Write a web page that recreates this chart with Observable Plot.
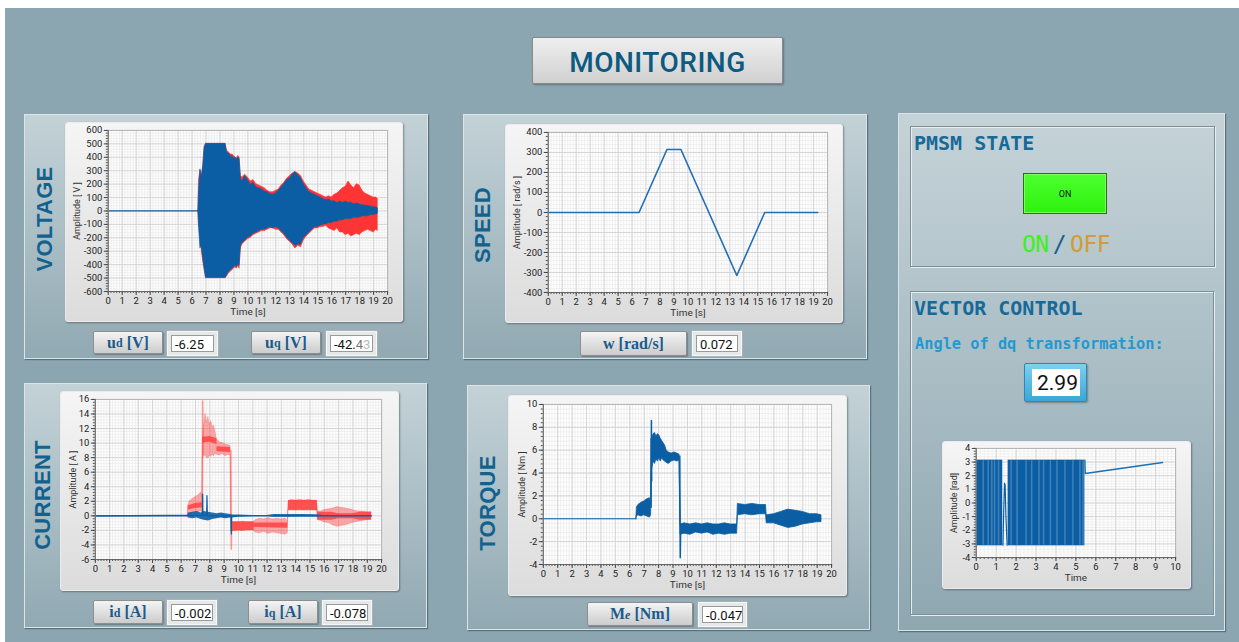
<!DOCTYPE html>
<html><head><meta charset="utf-8">
<script src="https://cdn.jsdelivr.net/npm/d3@7"></script>
<script src="https://cdn.jsdelivr.net/npm/@observablehq/plot@0.6"></script>
<style>
body{margin:0;width:1239px;height:642px;background:#fff;position:relative;overflow:hidden;font-family:Roboto,"Liberation Sans",sans-serif}
.abs{position:absolute;box-sizing:border-box}
#bg{left:5px;top:8px;width:1234px;height:634px;background:#8ba6b0}
.panel{background:linear-gradient(#c3d2d7,#91a9b3);border:1px solid #dbe5e8;box-shadow:1px 1px 1px rgba(50,70,80,.55)}
.card{background:linear-gradient(#f5f5f5,#dcdcdc);border:1px solid #ececec;border-radius:3px;box-shadow:1px 1px 2px rgba(0,0,0,.35)}
.card svg{position:absolute;left:-1px;top:-1px}
.vt{font-family:"Liberation Sans",Arial,sans-serif;font-weight:bold;font-size:22px;color:#13628e;transform:translate(-50%,-50%) rotate(-90deg);white-space:nowrap;letter-spacing:0.3px}
.btn{background:linear-gradient(#f4f4f4,#cccccc);border:1px solid #8e8e8e;border-radius:2px;font-family:"Liberation Serif","DejaVu Serif",serif;font-weight:bold;font-size:16px;color:#1b5b8b;display:flex;align-items:center;justify-content:center;box-shadow:1px 1px 1px rgba(0,0,0,.25)}
.btn sub{font-size:12px;vertical-align:baseline;position:relative;top:1px}
.valo{background:#e6e9ea;border:1px solid #f6f8f8;box-shadow:0 0 0 1px #a9b2b5}
.vali{position:absolute;left:3px;top:3px;right:3px;bottom:3px;background:#fff;border:1px solid #9a9a9a;font-family:Roboto,sans-serif;font-size:13px;color:#111;line-height:18px;padding-left:3px;overflow:hidden;white-space:nowrap}
.sub{border:1px solid #7d9096;box-shadow:inset 1px 1px 0 #e6eef0,1px 1px 0 #e6eef0}
.mono{font-family:"DejaVu Sans Mono",monospace;font-weight:bold;white-space:nowrap}
</style></head>
<body>
<div id="bg" class="abs"></div>

<!-- title -->
<div class="abs" style="left:532px;top:37px;width:251px;height:47px;padding-top:4px;background:linear-gradient(#efefef,#d0d0d0);border:1px solid #8a8a8a;border-radius:2px;box-shadow:1px 1px 2px rgba(0,0,0,.3);display:flex;align-items:center;justify-content:center;font-family:Roboto,sans-serif;font-weight:500;font-size:28px;color:#0c5a80;letter-spacing:0.5px">MONITORING</div>

<!-- panels -->
<div class="abs panel" style="left:24px;top:114px;width:404px;height:245px"></div>
<div class="abs panel" style="left:463px;top:114px;width:404px;height:245px"></div>
<div class="abs panel" style="left:24px;top:383px;width:403px;height:245px"></div>
<div class="abs panel" style="left:467px;top:385px;width:403px;height:245px"></div>
<div class="abs panel" style="left:898px;top:113px;width:327px;height:518px;background:linear-gradient(#c5d3d8,#8ea7b1)"></div>
<div class="abs sub" style="left:910px;top:126px;width:305px;height:141px"></div>
<div class="abs sub" style="left:910px;top:291px;width:304px;height:324px"></div>

<!-- vertical titles -->
<div class="abs vt" style="left:45px;top:219px">VOLTAGE</div>
<div class="abs vt" style="left:483px;top:225px">SPEED</div>
<div class="abs vt" style="left:43px;top:495px">CURRENT</div>
<div class="abs vt" style="left:488px;top:503px">TORQUE</div>

<!-- chart cards -->
<div id="cV" class="abs card" style="left:65px;top:122px;width:338px;height:200px"></div>
<div id="cS" class="abs card" style="left:505px;top:124px;width:338px;height:199px"></div>
<div id="cC" class="abs card" style="left:60px;top:391px;width:339px;height:200px"></div>
<div id="cT" class="abs card" style="left:508px;top:395px;width:339px;height:201px"></div>
<div id="cA" class="abs card" style="left:942px;top:441px;width:249px;height:148px"></div>

<!-- buttons and value boxes -->
<div class="abs btn" style="left:93px;top:331px;width:70px;height:23px">u<sub>d</sub>&nbsp;[V]</div>
<div class="abs valo" style="left:167px;top:331px;width:51px;height:25px"><div class="vali">-6.25</div></div>
<div class="abs btn" style="left:251px;top:331px;width:70px;height:23px">u<sub>q</sub>&nbsp;[V]</div>
<div class="abs valo" style="left:326px;top:331px;width:51px;height:25px"><div class="vali">-42.<span style="color:#777">4</span><span style="color:#bbb">3</span></div></div>

<div class="abs btn" style="left:580px;top:331px;width:107px;height:25px">w [rad/s]</div>
<div class="abs valo" style="left:692px;top:331px;width:50px;height:25px"><div class="vali">0.072</div></div>

<div class="abs btn" style="left:93px;top:600px;width:70px;height:24px">i<sub>d</sub>&nbsp;[A]</div>
<div class="abs valo" style="left:167px;top:600px;width:50px;height:25px"><div class="vali">-0.002</div></div>
<div class="abs btn" style="left:248px;top:600px;width:70px;height:24px">i<sub>q</sub>&nbsp;[A]</div>
<div class="abs valo" style="left:322px;top:600px;width:50px;height:25px"><div class="vali">-0.078</div></div>

<div class="abs btn" style="left:587px;top:602px;width:106px;height:24px">M<sub style="font-style:italic">e</sub>&nbsp;[Nm]</div>
<div class="abs valo" style="left:698px;top:602px;width:49px;height:25px"><div class="vali">-0.047</div></div>

<!-- right side -->
<div class="abs mono" style="left:914px;top:131px;font-size:20px;color:#176a98">PMSM STATE</div>
<div class="abs" style="left:1023px;top:173px;width:84px;height:41px;background:linear-gradient(#4dff2e,#2ef20f);border:1px solid #2b6e1c;box-shadow:inset 0 0 0 1px #7dff60;display:flex;align-items:center;justify-content:center;font-family:Roboto,sans-serif;font-size:9px;color:#111">ON</div>
<div class="abs" style="left:1022px;top:231px;font-family:'DejaVu Sans Mono',monospace;font-size:23px;white-space:nowrap;letter-spacing:-0.5px"><span style="color:#3ef01c">ON</span><span style="color:#1a5f90;margin:0 4px">/</span><span style="color:#d49a3a">OFF</span></div>

<div class="abs mono" style="left:914px;top:296px;font-size:20px;color:#176a98">VECTOR CONTROL</div>
<div class="abs mono" style="left:915px;top:335px;font-size:15.3px;color:#1f9ad2">Angle of dq transformation:</div>
<div class="abs" style="left:1024px;top:363px;width:63px;height:39px;background:linear-gradient(#7fd0ef,#3aa6d6);border:1px solid #2b88b8;border-radius:2px;box-shadow:1px 1px 2px rgba(0,0,0,.3)">
  <div style="position:absolute;left:7px;top:5px;right:6px;bottom:5px;background:#fff;font-family:Roboto,sans-serif;font-size:21px;line-height:28px;padding-left:5px;color:#111">2.99</div>
</div>

<script>
// ================= DATA =================
// Voltage envelopes: [time s, lower V, upper V]
const voltLead = [[0, 0], [6.45, 0]];
const voltBlue = [[6.45,0,0],[6.5,-120,150],[6.6,-280,310],[6.7,-260,250],[6.8,-350,330],[6.9,-430,470],[7.0,-500,500],[8.4,-500,500],[8.5,-480,440],[8.6,-460,430],[8.7,-450,420],[8.8,-440,400],[8.9,-430,410],[9.0,-420,390],[9.1,-410,400],[9.2,-420,380],[9.3,-400,400],[9.4,-410,390],[9.5,-260,240],[9.6,-240,220],[9.8,-220,260],[10.0,-200,230],[10.2,-190,195],[10.4,-170,210],[10.6,-160,175],[10.8,-150,170],[11.0,-140,160],[11.2,-140,145],[11.4,-130,140],[11.6,-120,125],[11.8,-130,120],[12.0,-120,130],[12.2,-130,150],[12.4,-150,175],[12.6,-170,200],[12.8,-200,230],[13.0,-220,240],[13.2,-240,270],[13.4,-260,290],[13.6,-250,265],[13.8,-250,245],[14.0,-200,200],[14.2,-180,170],[14.4,-160,140],[14.6,-140,130],[14.8,-120,120],[15.0,-120,110],[15.2,-110,100],[15.4,-100,90],[15.6,-100,80],[15.8,-90,85],[16.0,-90,70],[16.2,-80,72],[16.4,-80,60],[16.6,-70,70],[16.8,-70,60],[17.0,-60,70],[17.2,-60,60],[17.4,-60,62],[17.6,-50,50],[17.8,-50,55],[18.0,-50,50],[18.2,-40,42],[18.4,-40,40],[18.6,-40,38],[18.8,-30,32],[19.0,-30,30],[19.2,-25,25],[19.3,-20,20]];
const voltRed = [[6.45,0,0],[6.5,-100,230],[6.6,-150,300],[6.7,-300,260],[6.8,-380,340],[6.9,-440,480],[7.0,-500,500],[8.4,-500,500],[8.5,-490,450],[8.6,-470,440],[8.7,-460,430],[8.8,-450,420],[8.9,-440,420],[9.0,-430,410],[9.1,-420,400],[9.2,-430,390],[9.3,-410,410],[9.4,-430,400],[9.5,-280,260],[9.6,-250,250],[9.8,-230,270],[10.0,-210,250],[10.2,-200,220],[10.4,-180,230],[10.6,-170,200],[10.8,-160,190],[11.0,-150,180],[11.2,-150,170],[11.4,-140,150],[11.6,-130,140],[11.8,-130,140],[12.0,-140,150],[12.2,-140,160],[12.4,-160,190],[12.6,-180,210],[12.8,-210,240],[13.0,-230,260],[13.2,-250,280],[13.4,-280,290],[13.6,-260,280],[13.8,-270,260],[14.0,-220,220],[14.2,-190,190],[14.4,-170,160],[14.6,-150,150],[14.8,-130,140],[15.0,-130,130],[15.2,-120,120],[15.4,-120,110],[15.6,-110,100],[15.8,-130,110],[16.0,-140,100],[16.2,-150,120],[16.4,-130,130],[16.6,-160,150],[16.8,-160,170],[17.0,-180,180],[17.2,-170,220],[17.4,-190,190],[17.6,-180,170],[17.8,-170,200],[18.0,-180,190],[18.2,-160,150],[18.4,-150,130],[18.6,-140,120],[18.8,-150,110],[19.0,-160,100],[19.2,-140,100],[19.3,-150,90]];

// Speed [time s, rad/s]
const speedT = [0, 6.5, 8.5, 9.5, 13.5, 15.5, 19.3];
const speedV = [0, 0, 315, 315, -315, 0, 0];

// Current iq: light (spread) band and dense core band [t, lo, hi]
const iqLead = [[0, 0], [6.45, 0]];
const iqLight = [[6.45,0,0],[6.5,-0.2,1.5],[6.6,0.2,2.0],[6.8,0.4,2.3],[7.0,0.3,2.6],[7.2,0.5,2.8],[7.4,0.6,3.2],[7.48,0.5,2.5],[7.5,7.8,9.0],[7.55,8.0,11.5],[7.6,8.3,12.5],[7.7,8.2,14.0],[7.8,8.0,12.8],[7.9,7.9,13.6],[8.0,8.3,12.5],[8.1,8.1,13.0],[8.2,8.4,12.2],[8.3,8.2,12.4],[8.4,8.5,11.5],[8.5,8.4,10.5],[8.7,8.3,10.1],[8.9,8.5,10.0],[9.1,8.2,9.8],[9.3,8.4,9.7],[9.45,8.3,9.6],[9.5,-2.2,-0.8],[9.7,-2.1,-0.9],[10.0,-2.0,-0.9],[10.3,-2.1,-0.8],[10.6,-2.0,-0.9],[11.0,-2.0,-0.9],[11.2,-2.3,-0.6],[11.5,-2.4,-0.4],[11.8,-2.2,-0.5],[12.1,-2.5,-0.3],[12.4,-2.3,-0.5],[12.7,-2.4,-0.4],[13.0,-2.5,-0.5],[13.3,-2.6,-0.4],[13.45,-2.4,-0.8],[13.5,0.8,2.0],[13.7,0.9,2.2],[14.0,0.8,2.1],[14.3,0.9,2.2],[14.6,0.8,2.1],[14.9,0.9,2.2],[15.2,0.8,2.1],[15.5,0.8,2.1],[15.55,-0.6,0.6],[15.8,-0.7,0.6],[16.0,-0.9,0.8],[16.3,-1.0,0.9],[16.6,-1.3,1.0],[16.9,-1.5,1.2],[17.2,-1.4,1.1],[17.5,-1.3,1.0],[17.8,-1.1,0.9],[18.1,-0.9,0.7],[18.4,-0.8,0.6],[18.7,-0.7,0.6],[19.0,-0.6,0.5],[19.3,-0.5,0.5]];
const iqCore = [[6.45,0,0],[6.5,0.8,1.4],[7.0,1.0,1.7],[7.48,1.1,1.8],[7.5,10.0,10.8],[8.0,10.1,10.9],[8.5,9.8,10.6],[8.5,8.8,9.5],[9.45,8.7,9.4],[9.5,-2.1,-0.8],[11.1,-2.0,-0.8],[11.1,-1.6,-1.0],[13.45,-1.7,-1.0],[13.5,0.7,2.1],[15.5,0.7,2.1],[15.55,-0.6,0.5],[16.5,-0.6,0.5],[17.0,-0.4,0.3],[18.0,-0.4,0.3],[18.5,-0.6,0.5],[19.3,-0.6,0.5]];
const iqSpikes = [[7.48,1.5,"a"],[7.5,15.8,"a"],[7.53,8.5,"a"],[9.47,9.0,"b"],[9.5,-4.6,"b"],[9.52,-1.5,"b"]];
// Current id
const idBand = [[6.45,0,0],[6.5,-0.3,0.4],[6.8,-0.4,0.5],[7.1,-0.3,0.6],[7.4,-0.5,0.4],[7.6,-0.6,0.6],[7.9,-0.7,0.5],[8.2,-0.5,0.4],[8.5,-0.4,0.3],[8.8,-0.3,0.4],[9.1,-0.4,0.3],[9.45,-0.3,0.2],[9.6,-0.3,0.1],[10.0,-0.2,0.1],[11.0,-0.1,0.05],[12.0,-0.05,0.05],[12.5,-0.2,0.2],[13.5,-0.2,0.2],[14.5,-0.15,0.2],[15.5,-0.15,0.15],[16.0,-0.05,0.05],[19.3,-0.05,0.05]];
const idLine = [[0,0],[7.48,0.1],[7.5,3.0],[7.52,0.1],[7.78,0.1],[7.8,2.8],[7.83,0],[9.48,0],[9.5,-2.5],[9.53,0],[19.3,0]];

// Torque [t, lo, hi]
const trqLead = [[0, 0], [6.45, 0]];
const trqBand = [[6.45,0,0],[6.5,0.2,1.0],[6.6,0.3,1.2],[6.8,0.2,1.4],[7.0,0.3,1.5],[7.2,0.2,1.7],[7.4,0.1,1.8],[7.48,0.3,1.2],[7.5,3.3,7.0],[7.55,4.3,7.0],[7.65,5.0,7.4],[7.75,4.8,7.5],[7.85,5.2,7.2],[7.95,5.0,7.4],[8.05,5.3,7.3],[8.15,5.0,7.0],[8.25,5.3,6.8],[8.35,5.1,6.6],[8.45,5.0,6.4],[8.55,4.9,6.0],[8.7,4.8,5.8],[8.9,5.0,5.7],[9.1,5.1,5.8],[9.3,5.0,5.7],[9.45,5.1,5.6],[9.52,-1.4,-0.5],[9.8,-1.3,-0.4],[10.2,-1.4,-0.5],[10.6,-1.2,-0.4],[11.0,-1.3,-0.5],[11.4,-1.2,-0.4],[11.8,-1.4,-0.5],[12.2,-1.3,-0.5],[12.6,-1.4,-0.4],[13.0,-1.3,-0.5],[13.45,-1.3,-0.5],[13.5,0.3,1.3],[14.0,0.4,1.2],[14.5,0.3,1.3],[15.0,0.4,1.2],[15.45,0.4,1.2],[15.5,-0.4,0.3],[16.0,-0.4,0.4],[16.5,-0.6,0.6],[17.0,-0.8,0.8],[17.5,-0.7,0.7],[18.0,-0.5,0.6],[18.5,-0.4,0.4],[19.0,-0.3,0.4],[19.3,-0.3,0.3]];
const trqSpikes = [[7.48,1.0,"a"],[7.5,8.6,"a"],[7.52,3.3,"a"],[9.47,5.5,"b"],[9.5,-3.4,"b"],[9.53,-1.0,"b"]];

// Angle of dq transformation [rad]
const angleBlockStart = [0, 1.6];
const angleBlockEnd = [1.33, 5.45];
const angleMin = -3.14, angleMax = 3.14;
const angleStripes = [0.35, 0.6, 0.78, 0.92, 1.12, 1.75, 2.05, 2.5, 2.78, 3.15, 3.38, 3.72, 4.05, 4.45, 4.85, 5.2, 5.36];
const angleGlitch = [[1.34,-3.1],[1.38,-0.5],[1.42,1.45],[1.45,1.3],[1.49,-1.0],[1.55,-3.1]];
const angleRamp = [[5.45,3.14],[5.47,2.16],[9.35,2.97]];

// Axis ticks
const tick20 = d3.range(0, 21, 1), tick20m = d3.range(0, 20.01, 0.2);
const tick10 = d3.range(0, 11, 1), tick10m = d3.range(0, 10.01, 0.2);

// ================= DRAW =================
const BLUE = "#0b5ea4", RED = "#ff3434";
function chart(el, o) {
  const p = Plot.plot({
    width: o.w, height: o.h,
    marginLeft: o.ml, marginRight: o.mr, marginTop: o.mt, marginBottom: o.mb,
    x: {domain: o.xd}, y: {domain: o.yd},
    style: {background: "transparent", fontFamily: "'Liberation Sans Narrow', Roboto, sans-serif", fontSize: "9.5px", color: "#222", overflow: "visible"},
    marks: [
      Plot.frame({fill: "white"}),
      Plot.gridX(o.xm, {stroke: "#efefef", strokeOpacity: 1}),
      Plot.gridY(o.ym, {stroke: "#efefef", strokeOpacity: 1}),
      Plot.gridX(o.xt, {stroke: "#d5d5d5", strokeOpacity: 1}),
      Plot.gridY(o.yt, {stroke: "#d5d5d5", strokeOpacity: 1}),
      ...o.marks,
      Plot.frame({stroke: "#b5b5b5"}),
      Plot.axisX(o.xm, {tickSize: 2, tickFormat: () => "", stroke: "#555", label: null}),
      Plot.axisX(o.xt, {tickSize: 4, tickPadding: 2, tickFormat: d => String(d), stroke: "#444", fill: "#222", label: null}),
      Plot.axisY(o.ym, {tickSize: 2, tickFormat: () => "", stroke: "#555", label: null}),
      Plot.axisY(o.yt, {tickSize: 4, tickPadding: 2, tickFormat: d => String(d), stroke: "#444", fill: "#222", label: null}),
      Plot.ruleX([o.xd[0]], {stroke: "#666"}),
      Plot.ruleY([o.yd[0]], {stroke: "#666"}),
      Plot.text([o.ylabel], {frameAnchor: "left", textAnchor: "middle", lineAnchor: "middle", rotate: -90, dx: o.ydx, text: d => d, fill: "#333", fontSize: 9}),
      Plot.text([o.xlabel], {frameAnchor: "bottom", textAnchor: "middle", lineAnchor: "middle", dy: 20, text: d => d, fill: "#333", fontSize: 10})
    ]
  });
  document.getElementById(el).appendChild(p);
}

const band = (rows, opt) => Plot.areaY(rows, {x: d => d[0], y1: d => d[1], y2: d => d[2], curve: "linear", ...opt});
const line = (rows, opt) => Plot.line(rows, {x: d => d[0], y: d => d[1], ...opt});

// Voltage
chart("cV", {w: 338, h: 200, ml: 43, mr: 14, mt: 8, mb: 30, xd: [0, 20], yd: [-600, 600],
  xt: tick20, xm: tick20m, yt: d3.range(-600, 601, 100), ym: d3.range(-600, 601, 20),
  ylabel: "Amplitude [ V ]", ydx: -31, xlabel: "Time [s]",
  marks: [
    band(voltRed, {fill: RED, stroke: RED, strokeWidth: 0.6}),
    band(voltBlue, {fill: BLUE, stroke: BLUE, strokeWidth: 0.6}),
    line(voltLead, {stroke: BLUE, strokeWidth: 1.2})
  ]});

// Speed
chart("cS", {w: 338, h: 199, ml: 43, mr: 14, mt: 8, mb: 30, xd: [0, 20], yd: [-400, 400],
  xt: tick20, xm: tick20m, yt: d3.range(-400, 401, 100), ym: d3.range(-400, 401, 20),
  ylabel: "Amplitude [ rad/s ]", ydx: -31, xlabel: "Time [s]",
  marks: [
    Plot.line(speedT, {x: speedT, y: speedV, stroke: "#1f6fb2", strokeWidth: 1.6})
  ]});

// Current
chart("cC", {w: 339, h: 200, ml: 35, mr: 16, mt: 8, mb: 31, xd: [0, 20], yd: [-6, 16],
  xt: tick20, xm: tick20m, yt: d3.range(-6, 17, 2), ym: d3.range(-6, 16.01, 0.4),
  ylabel: "Amplitude [ A ]", ydx: -22, xlabel: "Time [s]",
  marks: [
    band(iqLight, {fill: RED, fillOpacity: 0.42, stroke: RED, strokeOpacity: 0.4, strokeWidth: 0.6}),
    band(iqCore, {fill: RED, fillOpacity: 0.75}),
    line(iqSpikes, {z: d => d[2], stroke: RED, strokeOpacity: 0.5, strokeWidth: 1.5}),
    line(iqLead, {stroke: BLUE, strokeWidth: 1.2}),
    band(idBand, {fill: BLUE, fillOpacity: 0.9}),
    line(idLine, {stroke: BLUE, strokeWidth: 1.2})
  ]});

// Torque
chart("cT", {w: 339, h: 201, ml: 35, mr: 14, mt: 9, mb: 31, xd: [0, 20], yd: [-4, 10],
  xt: tick20, xm: tick20m, yt: d3.range(-4, 11, 2), ym: d3.range(-4, 10.01, 0.4),
  ylabel: "Amplitude [ Nm ]", ydx: -21, xlabel: "Time [s]",
  marks: [
    band(trqBand, {fill: BLUE, stroke: BLUE, strokeWidth: 0.8}),
    line(trqSpikes, {z: d => d[2], stroke: BLUE, strokeWidth: 1.5}),
    line(trqLead, {stroke: BLUE, strokeWidth: 1.2})
  ]});

// Angle
chart("cA", {w: 249, h: 148, ml: 34, mr: 14, mt: 7, mb: 31, xd: [0, 10], yd: [-4, 4],
  xt: tick10, xm: tick10m, yt: d3.range(-4, 5, 1), ym: d3.range(-4, 4.01, 0.2),
  ylabel: "Amplitude [rad]", ydx: -22, xlabel: "Time",
  marks: [
    Plot.rect(angleBlockStart, {x1: angleBlockStart, x2: angleBlockEnd, y1: angleBlockStart.map(() => angleMin), y2: angleBlockStart.map(() => angleMax), fill: BLUE}),
    Plot.ruleX(angleStripes, {x: d => d, y1: angleMin + 0.05, y2: angleMax - 0.05, stroke: "white", strokeOpacity: 0.22, strokeWidth: 1.5}),
    line(angleGlitch, {stroke: BLUE, strokeWidth: 1.2}),
    line(angleRamp, {stroke: "#1f6fb2", strokeWidth: 1.4})
  ]});
</script>
</body></html>
